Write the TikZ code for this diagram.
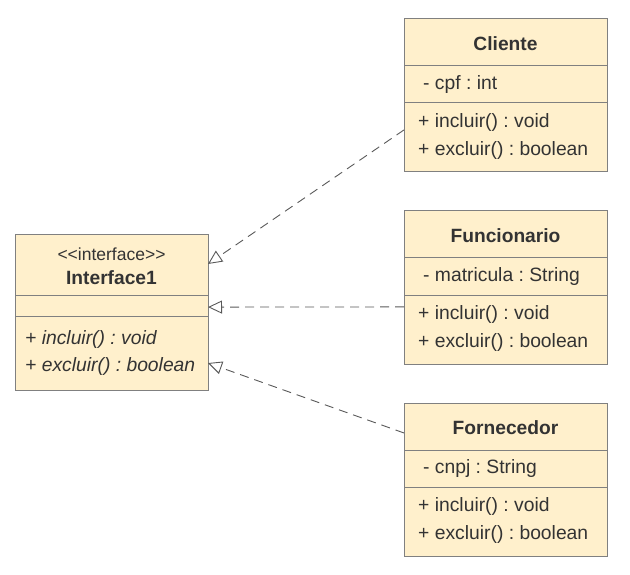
\documentclass[tikz,border=0pt]{standalone}
\usepackage{fontspec}
\setmainfont{Liberation Sans}
\frenchspacing
\usetikzlibrary{arrows.meta,calc}
\definecolor{boxfill}{HTML}{FFF0CC}
\definecolor{boxline}{HTML}{808080}
\definecolor{txt}{HTML}{333333}
\definecolor{conn}{HTML}{595959}
\tikzset{
  classbox/.style={draw=boxline,fill=boxfill,line width=1pt,minimum width=203pt,minimum height=153pt,inner sep=0pt,outer sep=0pt},
  ibox/.style={draw=boxline,fill=boxfill,line width=1pt,minimum width=193pt,minimum height=155pt,inner sep=0pt,outer sep=0pt},
  sep/.style={draw=boxline,line width=1pt},
  ttl/.style={font=\fontsize{19.2}{22}\selectfont\bfseries\frenchspacing,text=txt,inner sep=0pt},
  stereo/.style={font=\fontsize{17.5}{20}\selectfont\frenchspacing,text=txt,inner sep=0pt},
  mem/.style={font=\fontsize{19.3}{22}\selectfont\frenchspacing,text=txt,inner sep=0pt,anchor=west},
  imem/.style={font=\fontsize{19.3}{22}\selectfont\itshape\frenchspacing,text=txt,inner sep=0pt,anchor=west},
  realize/.style={draw=conn,line width=0.9pt,dash pattern=on 9pt off 6pt,-{Triangle[open,length=14pt,width=13pt]}}
}
\begin{document}
\begin{tikzpicture}[x=1pt,y=-1pt]
\useasboundingbox (0,0) rectangle (630,575);
% Interface
\node[ibox] (intf) at (111.5,312.5) {};
\draw[sep] (15,295) -- (208,295);
\draw[sep] (15,316) -- (208,316);
\node[stereo] (intfst) at (111.5,254) {\textless{}\textless{}interface\textgreater{}\textgreater{}};
\node[ttl] (intft) at (111.5,278) {Interface1};
\node[imem] (intfm1) at (25,340) {+ incluir() : void};
\node[imem] (intfm2) at (25,367) {+ excluir() : boolean};
% Cliente
\node[classbox] (cli) at (505.5,95.5) {};
\draw[sep] (404,66) -- (607,66);
\draw[sep] (404,103) -- (607,103);
\node[ttl] (clit) at (505.5,44) {Cliente};
\node[mem] (clia) at (423,85) {- cpf : int};
\node[mem] (clim1) at (418,123) {+ incluir() : void};
\node[mem] (clim2) at (418,151) {+ excluir() : boolean};
% Funcionario
\node[classbox] (fun) at (505.5,287.5) {};
\draw[sep] (404,258) -- (607,258);
\draw[sep] (404,295) -- (607,295);
\node[ttl] (funt) at (505.5,236) {Funcionario};
\node[mem] (funa) at (423,277) {- matricula : String};
\node[mem] (funm1) at (418,315) {+ incluir() : void};
\node[mem] (funm2) at (418,343) {+ excluir() : boolean};
% Fornecedor
\node[classbox] (forn) at (505.5,479.5) {};
\draw[sep] (404,450) -- (607,450);
\draw[sep] (404,487) -- (607,487);
\node[ttl] (fornt) at (505.5,428) {Fornecedor};
\node[mem] (forna) at (423,469) {- cnpj : String};
\node[mem] (fornm1) at (418,507) {+ incluir() : void};
\node[mem] (fornm2) at (418,535) {+ excluir() : boolean};
% Realizations
\coordinate (c1) at ($(cli.north west)!0.725!(cli.south west)$);
\coordinate (i1) at ($(intf.north east)!0.187!(intf.south east)$);
\coordinate (c2) at ($(fun.north west)!0.627!(fun.south west)$);
\coordinate (i2) at ($(intf.north east)!0.465!(intf.south east)$);
\coordinate (c3) at ($(forn.north west)!0.196!(forn.south west)$);
\coordinate (i3) at ($(intf.north east)!0.826!(intf.south east)$);
\draw[realize] (c1) -- (i1);
\draw[realize] (c2) -- (i2);
\draw[realize] (c3) -- (i3);
\end{tikzpicture}
\end{document}
